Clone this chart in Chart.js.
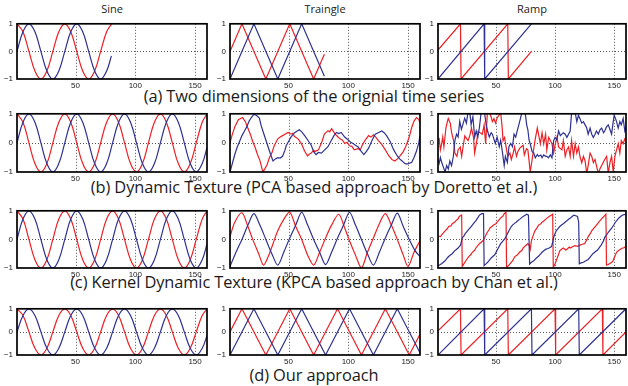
<!DOCTYPE html>
<html>
<head>
<meta charset="utf-8">
<script src="https://cdn.jsdelivr.net/npm/chart.js@4.4.0/dist/chart.umd.min.js"></script>
<style>
  html, body { margin:0; padding:0; background:#fff; }
  body { width:628px; height:386px; position:relative; overflow:hidden; }
  canvas { position:absolute; }
  .title { position:absolute; font-family:"Open Sans", sans-serif; font-size:11px; color:#222; text-align:center; width:190px; line-height:12px; }
  .caption { position:absolute; left:0; width:628px; text-align:center; font-family:"Open Sans", sans-serif; font-size:16.4px; color:#1a1a1a; line-height:18px; letter-spacing:-0.1px; }
</style>
</head>
<body>
<script>
// column titles and row captions
const titles = ["Sine", "Traingle", "Ramp"];
const captions = [
  "(a) Two dimensions of the orignial time series",
  "(b) Dynamic Texture (PCA based approach by Doretto et al.)",
  "(c) Kernel Dynamic Texture (KPCA based approach by Chan et al.)",
  "(d) Our approach"
];
const xTicks = [50, 100, 150];
const yTicks = [-1, 0, 1];

// sine, sampled every 5 steps (period 40)
const sineT = [1,6,11,16,21,26,31,36,41,46,51,56,61,66,71,76,81,86,91,96,101,106,111,116,121,126,131,136,141,146,151,156,160];
const sineRed = [1,.71,0,-.71,-1,-.71,0,.71, 1,.71,0,-.71,-1,-.71,0,.71, 1,.71,0,-.71,-1,-.71,0,.71, 1,.71,0,-.71,-1,-.71,0,.71, .99];
const sineBlue = [0,.71,1,.71,0,-.71,-1,-.71, 0,.71,1,.71,0,-.71,-1,-.71, 0,.71,1,.71,0,-.71,-1,-.71, 0,.71,1,.71,0,-.71,-1,-.71, -.16];
// first 80 samples only (row a)
const sineTA = [1,6,11,16,21,26,31,36,41,46,51,56,61,66,71,76,80];
const sineRedA = [1,.71,0,-.71,-1,-.71,0,.71, 1,.71,0,-.71,-1,-.71,0,.71, .99];
const sineBlueA = [0,.71,1,.71,0,-.71,-1,-.71, 0,.71,1,.71,0,-.71,-1,-.71, -.16];

// triangle vertices
const triRedA = [[1,0],[11,1],[31,-1],[51,1],[71,-1],[80,-0.1]];
const triBlueA = [[1,-1],[21,1],[41,-1],[61,1],[80,-0.9]];
const triRedD = [[1,0],[11,1],[31,-1],[51,1],[71,-1],[91,1],[111,-1],[131,1],[151,-1],[160,-0.1]];
const triBlueD = [[1,-1],[21,1],[41,-1],[61,1],[81,-1],[101,1],[121,-1],[141,1],[160,-0.9]];

// ramp vertices
const rampRedA = [[1,0.05],[20,1],[20.5,-1],[60,1],[60.5,-1],[80,0]];
const rampBlueA = [[1,-1],[40,1],[40.5,-1],[80,1]];
const rampRedD = [[1,0.05],[20,1],[20.5,-1],[60,1],[60.5,-1],[100,1],[100.5,-1],[140,1],[140.5,-1],[160,0]];
const rampBlueD = [[1,-1],[40,1],[40.5,-1],[80,1],[80.5,-1],[120,1],[120.5,-1],[160,1]];

// (b) PCA triangle
const pcaTriRed = [[1,0],[3,0.3],[5,0.55],[8,0.8],[11.5,0.87],[14,0.72],[16,0.5],[18,0.3],[20,0.05],[22,-0.15],[24,-0.4],[26,-0.6],[28.5,-1.0],[30,-0.9],[32,-0.75],[34,-0.5],[36,-0.35],[38,-0.1],[41,0.14],[43,0.2],[45,0.25],[47,0.3],[49.5,0.36],[52,0.3],[53.5,0.33],[55,0.22],[58,0.14],[60,0.02],[61,-0.05],[63.5,-0.29],[66,-0.45],[67.5,-0.38],[69,-0.35],[71,-0.25],[72,-0.3],[75,-0.24],[76.5,-0.1],[78,0.05],[80,0.3],[83,0.42],[84.5,0.38],[86,0.49],[89,0.3],[91,0.22],[93,0.14],[95,0.1],[97,-0.02],[99,0.02],[101,-0.1],[103,-0.12],[105,-0.24],[108,-0.2],[110,-0.24],[112,-0.05],[114,0.09],[117,0.25],[119,0.2],[121,0.28],[123,0.2],[125,0.09],[128,-0.05],[131,-0.24],[134,-0.45],[136.5,-0.57],[139,-0.62],[141,-0.55],[143,-0.46],[146,-0.3],[148,-0.13],[151,0.2],[153,0.52],[155,0.75],[157,0.87],[159,0.8],[160,0.68]];
const pcaTriBlue = [[1,-1],[3,-0.7],[5,-0.4],[7,-0.15],[9,0.05],[11,0.25],[13,0.4],[15,0.55],[17,0.75],[19,0.88],[21,0.98],[23,0.95],[25.6,0.85],[27,0.6],[29,0.35],[31,0.1],[33,-0.15],[35,-0.4],[37,-0.62],[39,-0.55],[41,-0.51],[43,-0.52],[45,-0.46],[47,-0.25],[48,-0.1],[50,0.05],[52,0.2],[55,0.35],[57,0.4],[59,0.45],[61,0.38],[63.5,0.25],[66,0.1],[69,-0.08],[71,-0.3],[73,-0.4],[75,-0.33],[77.5,-0.35],[80,-0.25],[83,-0.13],[86,0.1],[88,0.25],[90,0.36],[92,0.32],[94,0.36],[97,0.2],[100,0.1],[102,0.02],[104,-0.02],[106,-0.08],[108,-0.13],[111,-0.3],[113,-0.4],[115,-0.3],[117,-0.18],[120,0.1],[122.5,0.3],[125,0.35],[128,0.41],[130,0.35],[132,0.25],[135,0.05],[138,-0.24],[141,-0.45],[143,-0.55],[145,-0.62],[147,-0.7],[149,-0.73],[151,-0.7],[153,-0.67],[155,-0.5],[157,-0.29],[159,0],[160,0.25]];

// (b) PCA ramp (noisy)
const pcaRampRed = [[1,0.08],[2,0.14],[3,-0.24],[4,-0.05],[5,0.2],[6,-0.14],[7.7,0.51],[9,0.75],[9.7,0.84],[11.4,0.68],[12.5,0.35],[14.2,0.08],[15.3,-0.35],[17,-0.46],[18,-0.24],[19.8,-0.14],[21,-0.46],[22.6,-0.03],[23.7,0.24],[25.4,0.14],[26.5,0.08],[28.2,0.3],[29.3,0.51],[31,0.19],[32,-0.35],[33.8,0.08],[34.9,0.4],[36.6,0.35],[38.5,0.3],[40,0.62],[41.3,-0.03],[42.7,1.0],[44,1.1],[45.5,0.95],[47,0.73],[48.3,0.84],[49.7,0.68],[51,0.85],[52.5,0.95],[54,1.05],[55.3,0.51],[56,0.08],[57.3,0.19],[59,-0.24],[60,-0.46],[61.8,-0.35],[63,-0.57],[64.6,-0.35],[65.7,-0.14],[67.4,-0.46],[68.5,-0.3],[70,-0.19],[71.3,-0.14],[73,-0.08],[74,-0.41],[75.8,-0.2],[77,-0.24],[78,-0.6],[79,-1.0],[80.6,-0.57],[83,0.08],[85,0.51],[86,0.3],[87.6,-0.03],[89,0.35],[90.4,-0.03],[92,0.3],[93,-0.24],[94.6,0.19],[96,0.08],[97.4,-0.03],[98.8,-0.35],[100,-0.08],[101.6,0.19],[103,-0.14],[105.8,-0.24],[107,0.08],[108.6,-0.46],[110,-0.24],[111.4,-0.14],[112.8,-0.46],[114,0.08],[115.6,-0.46],[117,-0.03],[118.4,-0.35],[119.8,-0.14],[121,-0.46],[122.6,-0.68],[124,-0.46],[125.4,-0.62],[126.8,-1.05],[128,-0.78],[129.6,-0.35],[131,-0.46],[132.4,-0.68],[133.8,-0.57],[135,-0.78],[136.6,-1.05],[138,-0.89],[139.4,-0.78],[142,-0.57],[143.6,-0.46],[145,-1.05],[146.4,-0.68],[147.8,-0.46],[149.2,-1.0],[150.6,-0.46],[152,-0.24],[153.4,-0.03],[154.8,-0.35],[156,0.08],[157.6,-0.03],[159,0.14],[160,0.1]];
const pcaRampBlue = [[1,-0.57],[2,-0.7],[3,-0.5],[4,-0.65],[5.6,-0.84],[7,-1.0],[8.3,-0.78],[9.7,-0.9],[11,-0.62],[12.5,-0.78],[14,-0.46],[15.3,0.09],[16.7,0.3],[18,0.2],[19.4,0.74],[20.8,0.47],[22,0.63],[23.6,0.85],[25,0.68],[26.4,1.05],[27.8,1.1],[29,0.63],[30.5,0.9],[32,0.2],[33.3,0.41],[34.7,0.2],[36,0.52],[37.5,1.05],[39,1.1],[40.5,1.0],[41.7,0.63],[43,0.4],[44.4,0.2],[46,0.35],[47,0.3],[49.4,-0.02],[51,0.2],[52.8,-0.13],[54,0.09],[55.6,-0.35],[57,-0.78],[58,-0.46],[59.7,-0.67],[61,-0.13],[62.5,-0.02],[64,-0.13],[65.3,0.3],[66.7,0.2],[68,0.41],[69.4,0.63],[70.8,0.85],[72,1.05],[73.6,1.1],[75,0.95],[76,0.62],[77,0.45],[78,0.1],[79,-0.03],[80.6,-0.3],[82,-0.35],[83.3,-0.51],[85,-0.4],[86,-0.46],[88,-0.42],[89,-0.51],[90.4,-0.41],[92,-0.46],[93,-0.46],[94.4,-0.51],[96,-0.41],[97.4,-0.51],[98.8,0.08],[100,0.19],[101.5,0.1],[103,0.41],[104.5,0.25],[105.8,0.3],[107,0.35],[108.6,0.3],[110,0.19],[111.4,0.3],[112.8,0.41],[114,1.05],[115.6,1.1],[117,1.05],[118.4,0.73],[119.8,0.95],[121,0.84],[122.6,0.68],[124,0.73],[125.4,0.62],[126.8,0.51],[128,0.3],[129.6,0.51],[131,0.3],[132.4,0.19],[133.8,0.3],[135,0.41],[136.6,0.3],[138,0.45],[139.4,0.51],[141,0.35],[142,0.41],[143.5,0.55],[145,0.62],[146.5,0.45],[147.8,0.3],[149.2,0.73],[150,0.95],[151,0.85],[152,0.73],[153.4,0.51],[154.8,0.73],[156,0.62],[157.6,0.84],[159,0.41],[160,0.52]];

// (c) KPCA triangle (rounded)
const kpcaTriRed = [[1,0.1],[5,0.6],[11,0.93],[16,0.45],[20,0],[25,-0.5],[29,-0.9],[33,-0.6],[37,-0.15],[41,0.3],[46,0.7],[51,0.95],[56,0.45],[61,0],[66,-0.55],[71,-0.9],[76,-0.45],[81,0.05],[86,0.5],[92,0.88],[97,0.4],[101,-0.05],[106,-0.55],[111,-1.0],[116,-0.45],[121,0.05],[126,0.55],[131,0.9],[136,0.5],[141,0],[146,-0.55],[150,-0.95],[155,-0.45],[160,-0.05]];
const kpcaTriBlue = [[1,-0.95],[6,-0.45],[11,0],[16,0.5],[21,0.9],[26,0.5],[31,0],[36,-0.5],[41,-0.9],[46,-0.45],[51,0.05],[56,0.5],[61,0.95],[66,0.5],[71,0],[76,-0.45],[81,-0.88],[86,-0.45],[91,0.05],[96,0.5],[101,0.95],[106,0.5],[111,0],[116,-0.5],[121,-0.9],[126,-0.45],[131,0.05],[136,0.5],[141,0.92],[146,0.45],[151,0],[156,-0.4],[160,-0.6]];

// (c) KPCA ramp
const kpcaRampRed = [[1,0.12],[3,0.1],[5,0.2],[7,0.3],[9,0.38],[10,0.45],[12,0.47],[13,0.55],[15,0.6],[16,0.65],[18,0.72],[19,0.8],[21,0.85],[21.5,-0.94],[23,-0.85],[24,-0.78],[26,-0.66],[27,-0.6],[29,-0.52],[30,-0.45],[32,-0.38],[33,-0.3],[35,-0.2],[36,-0.15],[38,-0.08],[39,-0.05],[41,0.1],[42,0.2],[44,0.33],[45,0.4],[47,0.47],[48,0.5],[50,0.55],[51,0.6],[53,0.7],[54,0.75],[56,0.82],[57,0.9],[58.5,0.95],[59,-0.98],[61,-0.9],[62,-0.85],[64,-0.75],[66,-0.6],[68,-0.55],[70,-0.45],[72,-0.38],[73,-0.3],[75,-0.22],[77,-0.15],[78,-0.2],[79,-0.35],[80,-0.05],[82,0.2],[83,0.3],[85,0.42],[86,0.5],[88,0.55],[89,0.6],[91,0.66],[92,0.7],[94,0.77],[95,0.8],[97,0.85],[98,0.88],[98.5,-0.98],[100,-0.85],[101,-0.75],[103,-0.52],[104,-0.4],[106,-0.33],[107,-0.3],[109,-0.37],[110,-0.35],[112,-0.27],[113,-0.3],[115,-0.25],[117,-0.22],[119,-0.24],[121,-0.2],[123,-0.17],[125,-0.15],[127,0],[128,0.1],[130,0.22],[131,0.3],[133,0.4],[134,0.45],[136,0.55],[137,0.6],[139,0.7],[140,0.75],[142,0.83],[143,0.88],[143.5,-0.9],[145,-0.88],[146,-0.85],[148,-0.8],[149,-0.75],[151,-0.55],[152,-0.45],[154,-0.38],[155,-0.35],[157,-0.3],[158,-0.3],[160,-0.25]];
const kpcaRampBlue = [[1,-0.92],[3,-0.88],[4,-0.85],[6,-0.78],[7,-0.75],[9,-0.64],[10,-0.6],[12,-0.53],[13,-0.5],[15,-0.4],[16,-0.37],[18,-0.3],[19,-0.25],[20,-0.2],[21.5,0.05],[23,0.12],[24,0.2],[26,0.3],[27,0.35],[29,0.45],[30,0.5],[32,0.6],[33,0.65],[35,0.78],[36,0.85],[38,0.9],[39.5,0.9],[40,-0.92],[42,-0.84],[43,-0.8],[45,-0.7],[46,-0.65],[48,-0.57],[49,-0.54],[51,-0.38],[52,-0.3],[54,-0.15],[55,-0.1],[57,0],[58,0.05],[60,0.22],[61,0.3],[63,0.45],[64,0.5],[66,0.57],[67,0.6],[69,0.67],[70,0.7],[72,0.77],[73,0.8],[75,0.85],[76,0.88],[77.5,0.85],[78.5,-0.86],[80,-0.8],[82,-0.75],[84,-0.66],[86,-0.59],[88,-0.5],[89,-0.45],[91,-0.38],[92,-0.35],[94,-0.32],[95,-0.3],[97,-0.25],[98,-0.1],[99,0.1],[101,0.3],[103,0.4],[104,0.45],[106,0.52],[107,0.55],[109,0.62],[110,0.65],[112,0.72],[113,0.75],[115,0.82],[116,0.85],[118,0.82],[119,0.8],[120,0.6],[120.5,-0.85],[122,-0.82],[124,-0.8],[126,-0.75],[128,-0.7],[130,-0.6],[132,-0.5],[134,-0.43],[136,-0.37],[138,-0.25],[139,-0.2],[141,-0.05],[142,0.07],[144,0.18],[145,0.25],[147,0.35],[148,0.4],[150,0.53],[151,0.6],[153,0.7],[154,0.75],[156,0.82],[157,0.85],[159,0.87],[160,0.88]];

const RED = '#ed2024';
const BLUE = '#2e3192';
const cols = [[17, 207], [230, 420], [438, 626]];
const rows = [[20, 79], [110, 172], [207, 268], [305, 355]];
const captionY = [87, 178, 273, 366];

function zip(t, v) { return t.map((x, i) => ({x: x, y: v[i]})); }
function pairs(p) { return p.map(d => ({x: d[0], y: d[1]})); }

// dotted grid + black frame, like a matlab axes box
const frame = {
  id: 'frame',
  beforeDatasetsDraw(chart) {
    const {ctx, chartArea: a, scales: {x, y}} = chart;
    ctx.save();
    ctx.strokeStyle = '#555';
    ctx.lineWidth = 1;
    ctx.setLineDash([1, 2]);
    x.ticks.forEach(t => {
      const px = Math.round(x.getPixelForValue(t.value)) + 0.5;
      ctx.beginPath(); ctx.moveTo(px, a.top); ctx.lineTo(px, a.bottom); ctx.stroke();
    });
    y.ticks.forEach(t => {
      if (t.value <= y.min || t.value >= y.max) return;
      const py = Math.round(y.getPixelForValue(t.value)) + 0.5;
      ctx.beginPath(); ctx.moveTo(a.left, py); ctx.lineTo(a.right, py); ctx.stroke();
    });
    ctx.restore();
  },
  afterDatasetsDraw(chart) {
    const {ctx, chartArea: a} = chart;
    ctx.save();
    ctx.strokeStyle = '#000';
    ctx.lineWidth = 1.7;
    ctx.strokeRect(a.left, a.top, a.right - a.left, a.bottom - a.top);
    ctx.restore();
  }
};

const YW = 16, XH = 14, PT = 5, PR = 3;

function panel(row, col, blue, red, tension) {
  const c = cols[col], r = rows[row];
  const cv = document.createElement('canvas');
  const w = c[1] - c[0] + YW + PR, h = r[1] - r[0] + PT + XH;
  cv.width = w; cv.height = h;
  cv.style.left = (c[0] - YW) + 'px';
  cv.style.top = (r[0] - PT) + 'px';
  cv.style.width = w + 'px'; cv.style.height = h + 'px';
  document.body.appendChild(cv);
  const tickFont = {family: 'Liberation Sans', size: 8};
  new Chart(cv, {
    type: 'line',
    data: {
      datasets: [
        {data: blue, borderColor: BLUE, borderWidth: 1.2, pointRadius: 0, tension: tension || 0, fill: false},
        {data: red, borderColor: RED, borderWidth: 1.2, pointRadius: 0, tension: tension || 0, fill: false}
      ]
    },
    options: {
      responsive: false,
      animation: false,
      devicePixelRatio: 1,
      layout: {padding: {top: PT, right: PR, left: 0, bottom: 0}},
      plugins: {legend: {display: false}, tooltip: {enabled: false}},
      scales: {
        x: {
          type: 'linear', min: 1, max: 160,
          afterBuildTicks: s => { s.ticks = xTicks.map(v => ({value: v})); },
          afterFit: s => { s.height = XH; },
          grid: {display: false, drawTicks: false},
          border: {display: false},
          ticks: {font: tickFont, color: '#222', padding: 2, maxRotation: 0, autoSkip: false}
        },
        y: {
          type: 'linear', min: -1, max: 1,
          afterBuildTicks: s => { s.ticks = yTicks.map(v => ({value: v})); },
          afterFit: s => { s.width = YW; },
          grid: {display: false, drawTicks: false},
          border: {display: false},
          ticks: {font: tickFont, color: '#222', padding: 4,
                  callback: v => v < 0 ? '\u2212' + Math.abs(v) : String(v)}
        }
      }
    },
    plugins: [frame]
  });
}

// titles
titles.forEach((t, i) => {
  const d = document.createElement('div');
  d.className = 'title';
  d.textContent = t;
  d.style.left = cols[i][0] + 'px';
  d.style.width = (cols[i][1] - cols[i][0]) + 'px';
  d.style.top = '3px';
  document.body.appendChild(d);
});
captions.forEach((t, i) => {
  const d = document.createElement('div');
  d.className = 'caption';
  d.textContent = t;
  d.style.top = captionY[i] + 'px';
  document.body.appendChild(d);
});

// row a: original
panel(0, 0, zip(sineTA, sineBlueA), zip(sineTA, sineRedA), 0.4);
panel(0, 1, pairs(triBlueA), pairs(triRedA));
panel(0, 2, pairs(rampBlueA), pairs(rampRedA));
// row b: PCA
panel(1, 0, zip(sineT, sineBlue), zip(sineT, sineRed), 0.4);
panel(1, 1, pairs(pcaTriBlue), pairs(pcaTriRed));
panel(1, 2, pairs(pcaRampBlue), pairs(pcaRampRed));
// row c: KPCA
panel(2, 0, zip(sineT, sineBlue), zip(sineT, sineRed), 0.4);
panel(2, 1, pairs(kpcaTriBlue), pairs(kpcaTriRed), 0.3);
panel(2, 2, pairs(kpcaRampBlue), pairs(kpcaRampRed));
// row d: ours
panel(3, 0, zip(sineT, sineBlue), zip(sineT, sineRed), 0.4);
panel(3, 1, pairs(triBlueD), pairs(triRedD));
panel(3, 2, pairs(rampBlueD), pairs(rampRedD));
</script>
</body>
</html>
